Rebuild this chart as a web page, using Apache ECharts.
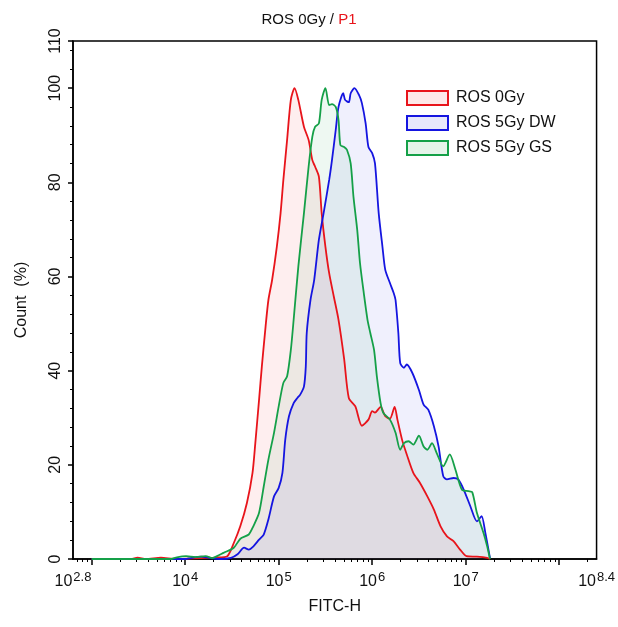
<!DOCTYPE html>
<html>
<head>
<meta charset="utf-8">
<script src="https://cdn.jsdelivr.net/npm/echarts@6/dist/echarts.min.js"></script>
<style>
html,body{margin:0;padding:0;background:#fff;}
#chart{width:618px;height:627px;}
</style>
</head>
<body>
<div id="chart"></div>
<script>
// x values are log10(FITC-H)
const ros0GyLog = [3.00,3.42,3.49,3.58,3.74,3.90,4.17,4.33,4.45,4.52,4.59,4.66,4.72,4.75,4.79,4.82,4.86,4.89,4.93,4.98,5.02,5.05,5.09,5.13,5.17,5.21,5.27,5.32,5.36,5.39,5.43,5.46,5.50,5.54,5.59,5.64,5.70,5.75,5.82,5.89,5.96,6.00,6.03,6.09,6.14,6.19,6.24,6.27,6.32,6.37,6.44,6.51,6.59,6.66,6.73,6.80,6.87,6.94,7.01,7.12,7.23,7.26];
const ros0GyCount = [0,0,0.3,0,0.3,0,0.2,0.3,0.6,3.4,7,11.9,18.3,24.6,33.8,40.9,49.4,55,59.3,66.3,73.4,80.5,89,97.5,100,97.5,91.8,89,84.7,83.3,81.2,73.4,66.3,60.7,55.7,50.8,42.5,34.2,32.4,28.3,29.6,31.4,31.1,32.3,30.3,29.8,32.3,29.6,25.3,22.2,18.3,16.2,13.3,10.5,7,4.8,3.8,2,0.6,0.5,0.25,0];

const ros5GyDWLog = [3.00,4.00,4.06,4.17,4.27,4.38,4.49,4.56,4.63,4.68,4.73,4.79,4.84,4.89,4.95,5.00,5.04,5.07,5.11,5.16,5.20,5.23,5.27,5.29,5.30,5.34,5.38,5.43,5.48,5.54,5.57,5.61,5.64,5.69,5.71,5.75,5.77,5.81,5.86,5.89,5.93,5.96,6.00,6.03,6.07,6.11,6.14,6.19,6.23,6.25,6.28,6.30,6.34,6.37,6.43,6.50,6.55,6.60,6.66,6.71,6.76,6.80,6.87,6.92,6.98,7.05,7.12,7.17,7.21,7.26];
const ros5GyDWCount = [0,0,0.2,0.5,0.2,0,0.25,1,2.4,2,2.7,4.1,5.2,8.4,13.3,15.1,18.3,25.3,30.3,33.1,34.2,34.9,36.6,40.9,48,55,59.3,67.8,73.4,80.5,84.7,91.1,96,98.9,97.5,97,98.9,100,98.5,96.8,92.5,87.5,86.2,84,73.4,66.3,61.4,58.6,56.5,55,48,41.6,40.6,41.3,39.5,35.9,32.8,31.7,28.2,23.9,17.6,16.9,17.2,16.9,14.7,11.2,8,9.1,5.6,0.2];

const ros5GyGSLog = [3.00,3.85,3.90,4.01,4.11,4.22,4.29,4.34,4.41,4.52,4.59,4.68,4.73,4.79,4.84,4.89,4.95,5.00,5.05,5.09,5.13,5.16,5.21,5.27,5.32,5.36,5.39,5.43,5.46,5.50,5.54,5.57,5.61,5.64,5.66,5.70,5.73,5.77,5.80,5.84,5.87,5.91,5.95,5.98,6.02,6.05,6.09,6.12,6.19,6.25,6.30,6.34,6.39,6.44,6.50,6.55,6.59,6.64,6.69,6.76,6.83,6.89,6.96,7.03,7.07,7.12,7.19,7.23,7.26];
const ros5GyGSCount = [0,0,0.3,0.6,0.4,0.6,0.2,0.6,1.3,2.4,4.3,5.2,7,9.8,15.4,21.1,26.8,32.4,37.4,38.8,44.4,50.8,62.1,73.4,83.3,89.7,91.8,92.5,97.5,100,96.4,96.6,96,93.2,87.9,87.5,86.9,84,76.9,69.9,62.8,56.5,50.8,48,44.4,38.8,33.1,31,29.6,26.8,23.2,24.6,25,24.3,26.2,23.9,23.2,24.6,22.5,19.7,22.2,19,14.7,14.4,14.2,9.8,5.6,2.7,0];

const seriesNames = ['ROS 0Gy', 'ROS 5Gy DW', 'ROS 5Gy GS'];
const xLabelValues = [2.8, 4, 5, 6, 7, 8.4];
const xMajorTicks = [3, 4, 5, 6, 7, 8];
const yLabelValues = [0, 20, 40, 60, 80, 100, 110];

function pairs(xs, ys) { return xs.map((x, i) => [x, ys[i]]); }

// minor log ticks
const xMinorTicks = [];
for (let d = 2; d <= 8; d++) {
  for (let k = 2; k <= 9; k++) {
    const v = d + Math.log10(k);
    if (v > 2.8 && v < 8.4) xMinorTicks.push(v);
  }
}
const yMinorTicks = [];
for (let v = 4; v < 110; v += 4) { if (v % 20 !== 0) yMinorTicks.push(v); }

const FONT = '"Liberation Sans", Arial, sans-serif';
const lineColors = ['#e8141b', '#1515e0', '#15a048'];
const fillColors = ['rgba(240,20,30,0.10)', 'rgba(20,20,230,0.09)', 'rgba(20,160,72,0.10)'];
const legendFill = ['#fde8e8', '#e8e8fb', '#e6f4ea'];

const grid = { left: 73, right: 20, top: 41, bottom: 68, show: true, borderColor: '#000', borderWidth: 1.5 };

const chart = echarts.init(document.getElementById('chart'), null, { renderer: 'canvas' });
chart.setOption({
  animation: false,
  backgroundColor: '#fff',
  title: {
    text: 'ROS 0Gy / {r|P1}',
    left: 'center', top: 7,
    textStyle: { fontFamily: FONT, fontSize: 15, fontWeight: 'normal', color: '#111',
      rich: { r: { color: '#e8141b', fontFamily: FONT, fontSize: 15 } } }
  },
  legend: {
    orient: 'vertical', left: 401, top: 85,
    itemWidth: 41, itemHeight: 14, itemGap: 9,
    textStyle: { fontFamily: FONT, fontSize: 16, color: '#111', padding: [0, 0, 0, 3] },
    data: seriesNames.map((n, i) => ({
      name: n, icon: 'rect',
      itemStyle: { color: legendFill[i], borderColor: lineColors[i], borderWidth: 2 }
    }))
  },
  grid: grid,
  xAxis: [
    {
      type: 'value', min: 2.8, max: 8.4,
      name: 'FITC-H', nameLocation: 'middle', nameGap: 40,
      nameTextStyle: { fontFamily: FONT, fontSize: 16, color: '#111' },
      axisLine: { show: true, lineStyle: { color: '#000', width: 1.5 } },
      axisTick: { show: true, customValues: xMajorTicks, length: 6, lineStyle: { color: '#000', width: 1.5 } },
      axisLabel: {
        customValues: xLabelValues, margin: 12,
        fontFamily: FONT, fontSize: 16, color: '#111',
        formatter: v => '10{s|' + (Number.isInteger(v) ? v : v.toFixed(1)) + '}',
        rich: { s: { fontFamily: FONT, fontSize: 13, color: '#111', padding: [0, 0, 9, 1] } }
      },
      splitLine: { show: false }
    },
    {
      type: 'value', min: 2.8, max: 8.4, position: 'bottom',
      axisLine: { show: false },
      axisTick: { show: true, customValues: xMinorTicks, length: 3, lineStyle: { color: '#000', width: 1 } },
      axisLabel: { show: false },
      splitLine: { show: false }
    }
  ],
  yAxis: [
    {
      type: 'value', min: 0, max: 110,
      name: 'Count  (%)', nameLocation: 'middle', nameGap: 43,
      nameTextStyle: { fontFamily: FONT, fontSize: 16, color: '#111' },
      axisLine: { show: true, lineStyle: { color: '#000', width: 1.5 } },
      axisTick: { show: true, customValues: yLabelValues, length: 5, lineStyle: { color: '#000', width: 1.5 } },
      axisLabel: { customValues: yLabelValues, rotate: 90, margin: 9, fontFamily: FONT, fontSize: 16, color: '#111' },
      splitLine: { show: false }
    },
    {
      type: 'value', min: 0, max: 110, position: 'left',
      axisLine: { show: false },
      axisTick: { show: true, customValues: yMinorTicks, length: 3, lineStyle: { color: '#000', width: 1 } },
      axisLabel: { show: false },
      splitLine: { show: false }
    }
  ],
  series: [
    [ros0GyLog, ros0GyCount],
    [ros5GyDWLog, ros5GyDWCount],
    [ros5GyGSLog, ros5GyGSCount]
  ].map((d, i) => ({
    name: seriesNames[i], type: 'line', xAxisIndex: 0, yAxisIndex: 0,
    data: pairs(d[0], d[1]), showSymbol: false, symbol: 'none', smooth: 0.25,
    lineStyle: { color: lineColors[i], width: 1.8 },
    itemStyle: { color: lineColors[i] },
    areaStyle: { color: fillColors[i], origin: 'start' }
  }))
});
</script>
</body>
</html>
